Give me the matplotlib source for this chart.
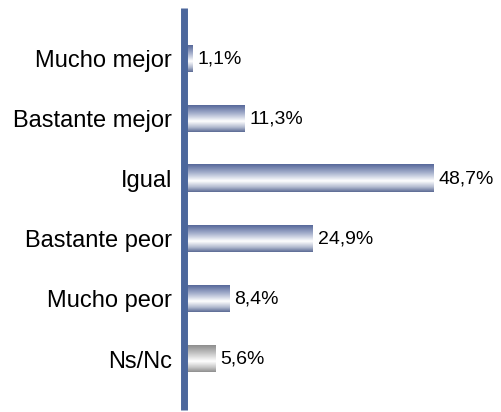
import numpy as np
import matplotlib
matplotlib.use("Agg")
import matplotlib.pyplot as plt
from matplotlib.colors import LinearSegmentedColormap

# ==============================
# DATOS
# ==============================
categorias = ["Mucho mejor", "Bastante mejor", "Igual", "Bastante peor", "Mucho peor", "Ns/Nc"]
valores = [1.1, 11.3, 48.7, 24.9, 8.4, 5.6]
etiquetas = ["1,1%", "11,3%", "48,7%", "24,9%", "8,4%", "5,6%"]

# ==============================
# ESTILO
# ==============================
plt.rcParams["font.family"] = ["Liberation Sans", "DejaVu Sans"]

azul = LinearSegmentedColormap.from_list(
    "azul", [(0.0, "#56679a"), (0.3, "#a3aecb"), (0.6, "#ffffff"), (0.82, "#b3bbd0"), (1.0, "#5a6993")]
)
gris = LinearSegmentedColormap.from_list(
    "gris", [(0.0, "#8c8c8c"), (0.3, "#c4c4c4"), (0.6, "#ffffff"), (0.82, "#c8c8c8"), (1.0, "#8e8e8e")]
)

W, H = 501, 412
fig = plt.figure(figsize=(W / 100, H / 100), dpi=100)
ax = fig.add_axes([183.5 / W, 2 / H, (W - 183.5) / W, 402 / H])

posiciones = np.arange(len(categorias))
barras = ax.barh(posiciones, valores, height=0.45, color="none", edgecolor="none")

# gradiente vertical dentro de cada barra
grad = np.linspace(0, 1, 256).reshape(-1, 1)
for i, b in enumerate(barras):
    x0, y0 = b.get_x(), b.get_y()
    w, h = b.get_width(), b.get_height()
    cmap = gris if categorias[i] == "Ns/Nc" else azul
    ax.imshow(grad, cmap=cmap, aspect="auto", extent=(x0, x0 + w, y0 + h, y0),
              interpolation="bilinear", zorder=2)

textos = ax.bar_label(barras, labels=etiquetas, padding=3.6, fontsize=14)
for t in textos:
    t.set_y(t.get_position()[1])  # mantener
    t.set_va("center")

ax.set_xlim(-3.5 / 5.06, (W - 187) / 5.06)
ax.set_ylim(5.85, -0.85)
ax.set_yticks(posiciones)
ax.set_yticklabels(categorias, fontsize=17)
ax.tick_params(axis="y", length=0, pad=8.3)
ax.set_xticks([])

for lado in ["top", "right", "bottom"]:
    ax.spines[lado].set_visible(False)
ax.spines["left"].set_color("#4c679c")
ax.spines["left"].set_linewidth(5.0)
ax.spines["left"].set_capstyle("butt")
ax.spines["left"].set_zorder(3)

fig.savefig("out.png", dpi=100)
